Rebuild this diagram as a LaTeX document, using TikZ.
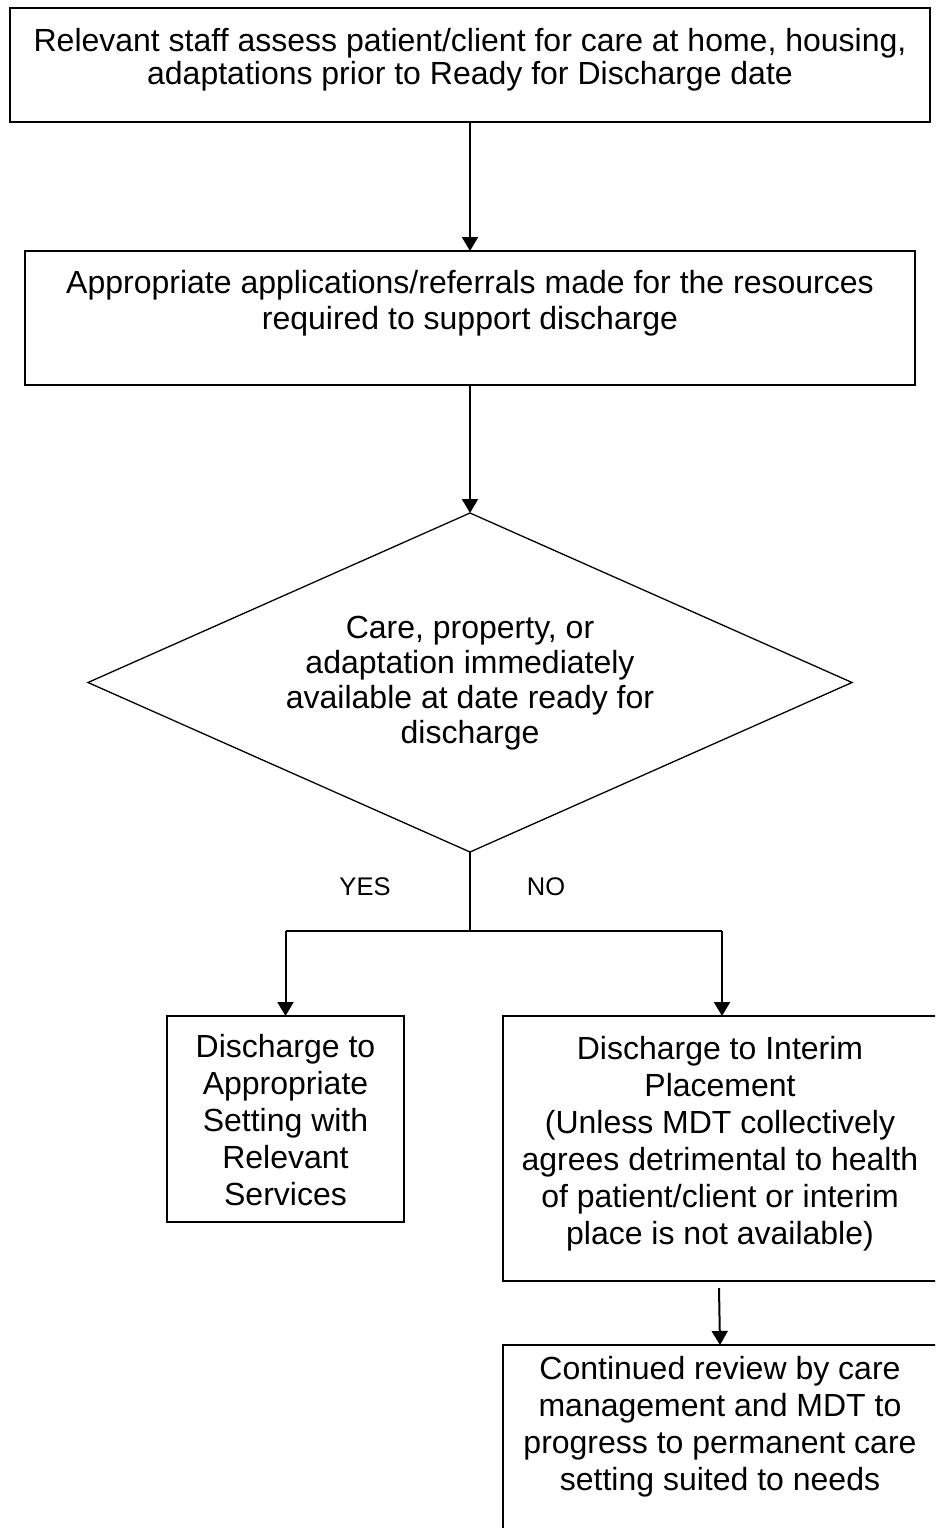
\documentclass[tikz,border=0pt]{standalone}
\usepackage{fontspec}
\setmainfont{Liberation Sans}
\usetikzlibrary{shapes.geometric,arrows.meta}
\begin{document}
\begin{tikzpicture}[x=1pt,y=-1pt,
  box/.style={draw, line width=2pt, rectangle, inner sep=0pt, outer sep=0pt},
  txt/.style={align=center, inner sep=0pt, font=\fontsize{32}{37}\selectfont},
  lbl/.style={inner sep=0pt, font=\fontsize{25.5}{30}\selectfont},
  arr/.style={line width=2pt, -{Triangle[length=14pt,width=16pt]}},
  thin/.style={line width=1.3pt}]
\useasboundingbox (0,0) rectangle (935,1528);
\clip (0,0) rectangle (935,1528);
% boxes
\node[box, minimum width=920pt, minimum height=114pt] (b1) at (470,65) {};
\node[txt, font=\fontsize{32}{33}\selectfont] (t1) at (470,60) {Relevant staff assess patient/client for care at home, housing,\\adaptations prior to Ready for Discharge date};
\node[box, minimum width=890pt, minimum height=134pt] (b2) at (470,318) {};
\node[txt, font=\fontsize{32}{36}\selectfont] (t2) at (470,303) {Appropriate applications/referrals made for the resources\\required to support discharge};
\node[draw, shape=diamond, line width=1.3pt, inner sep=0pt, outer sep=0pt, minimum width=764pt, minimum height=339pt] (d) at (470,682.5) {};
\node[txt, font=\fontsize{32}{35}\selectfont] (td) at (470,683) {Care, property, or\\adaptation immediately\\available at date ready for\\discharge};
\node[box, minimum width=237pt, minimum height=206pt] (b3) at (285.5,1119) {};
\node[txt] (t3) at (285.5,1120) {Discharge to\\Appropriate\\Setting with\\Relevant\\Services};
\node[box, minimum width=434pt, minimum height=265pt] (b4) at (720,1148.5) {};
\node[txt] (t4) at (720,1144) {Discharge to Interim\\Placement\\(Unless MDT collectively\\agrees detrimental to health\\of patient/client or interim\\place is not available)};
\node[box, minimum width=434pt, minimum height=230pt] (b5) at (720,1460) {};
\node[txt] (t5) at (720,1427) {Continued review by care\\management and MDT to\\progress to permanent care\\setting suited to needs};
% labels
\node[lbl] (yes) at (365,887) {YES};
\node[lbl] (no) at (546,887) {NO};
% connectors
\draw[arr] (b1.south) -- (b2.north);
\draw[arr] (b2.south) -- (d.north);
\coordinate (j) at (470,931);
\coordinate (jl) at (285.5,931);
\coordinate (jr) at (722,931);
\draw[thin] (d.south) -- (j);
\draw[line width=2pt] (jl) -- (jr);
\draw[arr] (jl) -- (b3.north);
\draw[arr] (jr) -- (jr |- b4.north);
\coordinate (s4) at (719,1288);
\draw[arr] (s4) -- (b5.north);
\end{tikzpicture}
\end{document}
